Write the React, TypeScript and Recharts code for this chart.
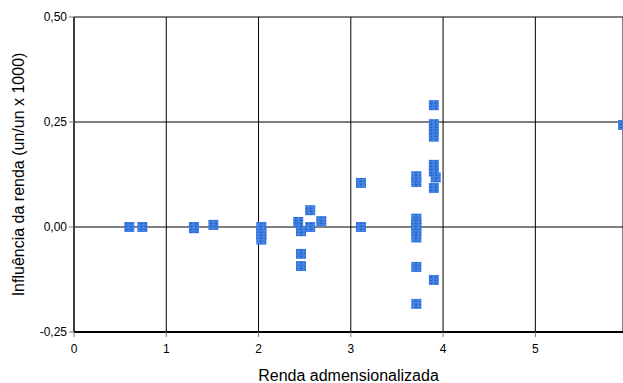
import { ScatterChart, Scatter, XAxis, YAxis, CartesianGrid } from 'recharts';

// renda admensionalizada (x) e influência da renda (y)
const renda = [
  0.6, 0.74, 1.3, 1.3, 1.51,
  2.03, 2.03, 2.03, 2.03,
  2.43, 2.46, 2.56, 2.56, 2.68, 2.46, 2.46,
  3.11, 3.11,
  3.71, 3.71, 3.71, 3.71, 3.71, 3.71, 3.71, 3.71, 3.71,
  3.9, 3.9, 3.9, 3.9, 3.9, 3.9, 3.9, 3.92, 3.9,
  5.95,
];
const influencia = [
  0.0, 0.0, 0.0, -0.003, 0.005,
  0.0, -0.01, -0.02, -0.03,
  0.012, -0.01, 0.04, 0.0, 0.014, -0.064, -0.093,
  0.105, 0.0,
  0.02, 0.01, 0.0, -0.01, -0.025, -0.095, -0.183, 0.121, 0.107,
  -0.126, 0.29, 0.245, 0.23, 0.215, 0.148, 0.132, 0.118, 0.093,
  0.243,
];

const xTicks = [0, 1, 2, 3, 4, 5];
const yTicks = [-0.25, 0, 0.25, 0.5];

const data = renda.map((x, i) => ({ x, y: influencia[i] }));

const fmtY = (v: number) => v.toFixed(2).replace('.', ',');

const Marker = (props: any) => {
  const { cx, cy } = props;
  if (cx == null || cy == null) return null;
  return <rect x={cx - 5} y={cy - 5} width={10} height={10} fill="url(#markTex)" />;
};

export default function App() {
  return (
    <div style={{ position: 'absolute', left: 0, top: 0, fontFamily: '"Liberation Sans", Arial, sans-serif' }}>
      <svg width="0" height="0" style={{ position: 'absolute' }}>
        <defs>
          <pattern id="markTex" width="5" height="3" patternUnits="userSpaceOnUse">
            <rect width="5" height="3" fill="#3b7de0" />
            <rect x="0" y="1" width="2" height="1" fill="#2a5fbf" />
            <rect x="3" y="2" width="1" height="1" fill="#5592ea" />
          </pattern>
        </defs>
      </svg>
      <ScatterChart width={623} height={383} margin={{ top: 17, right: 0, bottom: 0, left: 0 }}>
        <CartesianGrid stroke="#000" strokeWidth={1} />
        <XAxis
          type="number"
          dataKey="x"
          domain={[0, 5.95]}
          ticks={xTicks}
          allowDataOverflow
          height={51}
          tick={{ fontSize: 12, fill: '#000', dy: 5 }}
          tickLine={{ stroke: '#777' }}
          tickSize={5}
          axisLine={{ stroke: '#000', strokeWidth: 2 }}
          label={{ value: 'Renda admensionalizada', position: 'insideBottom', offset: 2, fontSize: 16, fill: '#000' }}
        />
        <YAxis
          type="number"
          dataKey="y"
          domain={[-0.25, 0.5]}
          ticks={yTicks}
          allowDataOverflow
          width={74}
          tickFormatter={fmtY}
          tick={{ fontSize: 12, fill: '#000' }}
          tickLine={{ stroke: '#777' }}
          tickSize={5}
          axisLine={{ stroke: '#000' }}
          label={{
            value: 'Influência da renda (un/un x 1000)',
            angle: -90,
            position: 'insideLeft',
            offset: 18,
            style: { textAnchor: 'middle' },
            fontSize: 16,
            fill: '#000',
          }}
        />
        <Scatter data={data} shape={<Marker />} isAnimationActive={false} />
      </ScatterChart>
    </div>
  );
}
